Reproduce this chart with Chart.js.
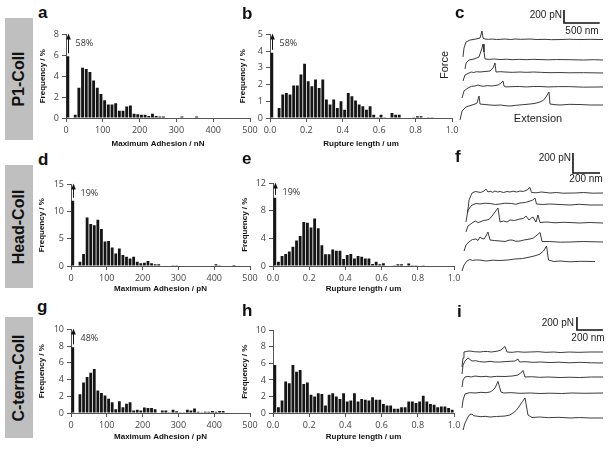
<!DOCTYPE html>
<html>
<head>
<meta charset="utf-8">
<script src="https://cdn.jsdelivr.net/npm/chart.js@4.4.1/dist/chart.umd.min.js"></script>
<style>
  body { margin: 0; background: #fff; width: 611px; height: 449px; position: relative; overflow: hidden; font-family: "Liberation Sans", Arial, sans-serif; }
  canvas { position: absolute; }
  .box { position: absolute; background: #bfbfbf; left: 5px; width: 28px; }
  .box span { position: absolute; left: 50%; top: 50%; transform: translate(-50%, -50%) rotate(-90deg); font-weight: bold; font-size: 16px; white-space: nowrap; color: #111; }
  .lt { position: absolute; font-weight: bold; font-size: 17px; line-height: 17px; color: #111; }
  .tx { position: absolute; font-size: 10px; line-height: 10px; color: #222; white-space: nowrap; }
  .c { transform: translate(-50%, -50%); }
</style>
</head>
<body>
<div class="box" style="top:18px;height:122px"><span>P1-Coll</span></div>
<div class="box" style="top:165px;height:123px"><span>Head-Coll</span></div>
<div class="box" style="top:317px;height:121px"><span>C-term-Coll</span></div>

<canvas id="ha"></canvas><canvas id="hb"></canvas><canvas id="fc"></canvas>
<canvas id="hd"></canvas><canvas id="he"></canvas><canvas id="ff"></canvas>
<canvas id="hg"></canvas><canvas id="hh"></canvas><canvas id="fi"></canvas>

<div class="lt" style="left:38px;top:4px">a</div>
<div class="lt" style="left:242px;top:5px">b</div>
<div class="lt" style="left:455px;top:4px">c</div>
<div class="lt" style="left:38px;top:151px">d</div>
<div class="lt" style="left:242px;top:150px">e</div>
<div class="lt" style="left:455px;top:148px">f</div>
<div class="lt" style="left:37px;top:298px">g</div>
<div class="lt" style="left:242px;top:302px">h</div>
<div class="lt" style="left:457px;top:303px">i</div>

<div class="tx" style="right:49px;top:10px">200 pN</div>
<div class="tx c" style="left:582px;top:31px">500 nm</div>
<div class="tx c" style="left:444px;top:65px;transform:translate(-50%,-50%) rotate(-90deg);font-size:11px">Force</div>
<div class="tx c" style="left:538px;top:118px;font-size:11px">Extension</div>
<div class="tx" style="right:40px;top:153px">200 pN</div>
<div class="tx c" style="left:586px;top:179px">200 nm</div>
<div class="tx" style="right:37px;top:318px">200 pN</div>
<div class="tx c" style="left:588px;top:338px">200 nm</div>

<script>
// histogram values, % per bin (adhesion bins of 10, rupture length bins of 0.02 um)
const p1Adhesion = [5.9,0,0.3,2.9,4.8,4.7,4.4,3.6,2.9,2.3,1.7,1.3,1.3,1.4,0.7,0.7,1.1,1.2,0.4,0.35,0.3,0.3,0.2,0.4,0.2,0.15,0.15,0,0.05,0,0,0.15,0,0,0,0.15];
const p1Length = [3.9,0,0.6,1.4,1.5,1.4,1.95,1.95,2.6,3.25,2.2,1.9,2.3,1.8,2.3,1.1,0.8,1.1,0.6,1.0,0.5,1.5,1.3,1.05,0.8,0.7,0.5,0.7,0.2,0.05,0.2,0.05,0,0.3,0.2,0.2,0,0,0,0.05,0.1,0.1,0,0.05,0.05];
const headAdhesion = [12.0,0,0.8,2.2,8.9,7.7,7.5,8.5,6.8,4.5,4.6,3.4,2.3,3.2,2.0,1.7,1.4,1.7,0.8,0.5,0.6,0.9,0.5,0.3,0.3,0,0,0,0.15,0.15,0,0,0,0,0,0,0,0,0,0,0.3,0.15,0,0,0,0.2];
const headLength = [9.9,0.6,1.45,1.75,2.1,2.8,3.7,4.35,6.4,6.3,5.6,6.9,5.5,3.0,1.7,1.7,2.4,2.2,2.2,1.0,1.6,1.75,1.1,1.45,1.35,1.1,1.1,0.3,0.6,0.25,0.4,0,0,0.1,0.25,0.25,0,0.35,0.1,0.1,0,0.1];
const ctermAdhesion = [7.85,0,2.25,3.65,4.3,4.8,5.25,2.7,2.4,2.1,1.7,1.3,0.45,1.4,0.7,1.1,1.3,0.3,0.4,0.3,0.65,0.6,0.6,0.45,0,0.3,0.3,0.1,0.4,0.2,0.1,0.1,0.4,0.3,0.55,0.15,0.1,0.15,0.15,0.25,0.15,0.25,0.25];
const ctermLength = [5.8,0.7,1.5,3.8,3.6,5.8,5.0,5.2,3.5,3.7,2.2,2.0,2.4,2.3,0.9,2.2,2.4,2.0,1.7,2.4,1.4,1.5,2.4,1.4,1.7,1.6,1.5,1.9,1.6,1.6,1.1,0.9,0.9,0.5,0.5,0.7,0.7,1.4,1.4,1.2,1.4,2.1,1.4,1.1,1.0,0.7,0.8,0.8,0.6,0.4];
const zeroBinShare = ['58%', '58%', '19%', '19%', '48%'];

// force traces: [extension nm, force pN relative to the trace baseline]
const c1 = [[112,-277],[126,-139],[154,-46],[210,-15],[294,0],[350,15],[378,123],[392,15],[420,0],[470,-5],[520,0],[580,-8],[630,-5],[700,0],[780,-8],[840,0],[920,-5],[1050,0],[1150,-8],[1260,-5],[1350,-10],[1470,-8],[1600,-3],[1750,-8],[1900,-5],[2072,-8]];
const c2 = [[140,-154],[154,-62],[196,-15],[266,0],[336,31],[378,170],[392,231],[406,108],[420,0],[480,-5],[550,0],[630,-8],[720,-3],[800,-10],[900,-5],[1000,-10],[1090,-5],[1190,-8],[1300,-12],[1420,-8],[1600,-10],[1800,-15],[1950,-10],[2072,-15]];
const c3 = [[112,-139],[140,-46],[196,-15],[230,0],[260,-8],[300,5],[350,0],[420,8],[490,15],[532,62],[560,139],[574,0],[640,5],[700,0],[800,-5],[910,0],[1000,-5],[1100,0],[1200,-5],[1330,-10],[1470,-8],[1600,-12],[1800,-10],[2072,-15]];
const c4 = [[98,-185],[126,-77],[182,-31],[230,-5],[280,0],[322,15],[364,0],[400,-5],[450,5],[520,0],[602,15],[644,46],[672,77],[686,0],[714,-15],[800,-10],[900,-8],[1000,-15],[1100,-8],[1190,-8],[1300,-15],[1450,-10],[1600,-10],[1800,-18],[2072,-15]];
const c5 = [[70,-246],[98,-108],[154,-46],[238,-15],[280,0],[308,15],[336,123],[350,0],[420,-8],[490,-15],[560,-20],[640,-15],[700,-25],[770,-31],[850,-20],[950,-10],[1050,0],[1120,10],[1190,31],[1240,60],[1274,108],[1316,185],[1330,0],[1400,-10],[1470,-15],[1600,-5],[1750,-8],[1900,-15],[2072,-15]];
const cBase = [1324, 1016, 816, 601, 323];

const f1 = [[93,-210],[104,-80],[126,-10],[150,5],[170,0],[190,-5],[215,10],[229,30],[244,0],[260,8],[280,-3],[296,10],[315,0],[333,5],[360,-5],[385,5],[407,0],[430,8],[455,0],[481,10],[505,5],[533,20],[555,45],[566,-5],[600,-8],[640,0],[703,-10],[750,-5],[800,-12],[888,-10],[950,-5],[1020,-12],[1095,-10]];
const f2 = [[81,-180],[96,-60],[126,-10],[155,5],[185,0],[220,8],[260,5],[300,-5],[333,0],[370,8],[420,5],[450,-3],[481,10],[520,15],[555,30],[575,40],[592,60],[603,0],[650,-5],[700,0],[777,-5],[850,-10],[920,-3],[1000,-10],[1095,-10]];
const f3 = [[81,-100],[96,-40],[126,-10],[150,10],[170,-5],[185,0],[210,15],[237,20],[255,30],[274,60],[296,100],[318,140],[333,0],[360,10],[385,0],[407,20],[440,15],[481,30],[505,35],[525,60],[548,20],[565,40],[577,50],[599,0],[614,70],[629,-5],[680,0],[740,-8],[800,-3],[851,-5],[920,-10],[1000,-5],[1095,-10]];
const f4 = [[67,-100],[81,-40],[111,0],[130,15],[155,20],[170,5],[185,40],[200,25],[215,20],[229,50],[244,90],[259,10],[290,5],[333,0],[370,-5],[400,8],[422,10],[450,-3],[481,0],[510,10],[555,20],[580,30],[599,50],[629,85],[644,-5],[700,-5],[780,-12],[851,-10],[950,-5],[1095,-10]];
const f5 = [[52,-100],[67,-40],[89,0],[110,15],[130,5],[150,10],[185,10],[230,0],[280,8],[333,5],[390,10],[444,20],[500,25],[555,40],[600,55],[629,70],[655,100],[677,150],[692,10],[730,-5],[777,0],[850,-8],[930,-3],[1036,-5]];
const fBase = [830, 710, 530, 340, 140];

const i1 = [[54,-231],[62,-92],[69,0],[90,10],[116,15],[150,5],[193,0],[220,8],[250,8],[280,0],[308,8],[330,15],[354,31],[385,85],[400,0],[440,-5],[480,5],[530,-3],[578,0],[640,5],[700,-5],[760,0],[809,-8],[880,0],[950,-5],[1040,0],[1140,0]];
const i2 = [[54,-185],[62,-46],[77,15],[100,62],[131,15],[160,20],[190,5],[231,0],[270,10],[310,0],[347,0],[400,8],[462,15],[485,46],[497,0],[540,5],[600,-5],[660,0],[732,-8],[800,-3],[880,-12],[960,-5],[1050,-12],[1140,-15]];
const i3 = [[54,-154],[62,-46],[77,0],[100,10],[125,0],[154,15],[200,5],[240,10],[270,0],[320,10],[385,8],[440,15],[485,31],[505,60],[524,100],[539,0],[590,5],[650,-5],[720,0],[809,-8],[880,-3],[960,-8],[1050,0],[1140,0]];
const i4 = [[54,-231],[62,-108],[77,-15],[110,5],[154,0],[200,10],[240,5],[270,15],[290,40],[308,77],[331,177],[354,15],[377,0],[430,5],[500,-5],[580,0],[655,-8],[730,-3],[820,-8],[900,0],[1000,-5],[1140,0]];
const i5 = [[62,-200],[77,-92],[100,0],[115,40],[131,46],[145,20],[162,15],[200,5],[235,10],[270,0],[320,8],[385,15],[420,30],[447,62],[475,110],[501,185],[520,240],[539,293],[562,31],[593,-8],[650,0],[720,-10],[800,-5],[886,-15],[960,-8],[1040,-15],[1140,-15]];
const iBase = [1278, 1124, 893, 647, 277];

Chart.defaults.font.family = '"Open Sans", "Liberation Sans", sans-serif';
Chart.defaults.color = '#444';
const AXIS = '#555';

// arrow + percentage over the first (off-scale) bin
const arrowPlugin = {
  id: 'arrow',
  afterDatasetsDraw(chart, args, opts) {
    if (!opts.text) return;
    const { ctx, scales: { x, y } } = chart;
    const first = chart.data.datasets[0].data[0];
    const px = Math.round(x.getPixelForValue(first.x)) + 0.5;
    const top = y.getPixelForValue(y.max);
    const from = y.getPixelForValue(first.y) - 3;
    ctx.save();
    ctx.strokeStyle = '#111';
    ctx.fillStyle = '#111';
    ctx.lineWidth = 1;
    ctx.beginPath();
    ctx.moveTo(px, from);
    ctx.lineTo(px, top + 4);
    ctx.stroke();
    ctx.beginPath();
    ctx.moveTo(px, top - 1);
    ctx.lineTo(px - 2.3, top + 5);
    ctx.lineTo(px + 2.3, top + 5);
    ctx.closePath();
    ctx.fill();
    ctx.font = '9px "Open Sans", sans-serif';
    ctx.fillStyle = '#333';
    ctx.textBaseline = 'middle';
    ctx.fillText(opts.text, px + 7, top + 9);
    ctx.restore();
  }
};

function place(cv, left, top, w, h) {
  cv.style.left = left + 'px';
  cv.style.top = top + 'px';
  cv.width = w; cv.height = h;
  cv.style.width = w + 'px';
  cv.style.height = h + 'px';
}

function histogram(id, g, values, bin, xMax, xStep, yMax, yStep, xTitle, pct, dec) {
  const cv = document.getElementById(id);
  place(cv, g.x0 - g.yw, g.y0 - 8, g.yw + (g.x1 - g.x0) + 16, 8 + (g.y1 - g.y0) + g.xh);
  const grid = { display: true, drawOnChartArea: false, drawTicks: true, tickLength: 4, color: AXIS, offset: false };
  const border = { display: true, color: AXIS, width: 1 };
  const titleFont = { family: '"Liberation Sans", Arial, sans-serif', weight: 'bold', size: 8 };
  new Chart(cv, {
    type: 'bar',
    data: {
      datasets: [{
        data: values.map((v, i) => ({ x: (i + 0.5) * bin, y: v })),
        backgroundColor: '#151515',
        barPercentage: 0.78,
        categoryPercentage: 1
      }]
    },
    options: {
      responsive: false,
      animation: false,
      layout: { padding: { top: 8, right: 16, left: 0, bottom: 0 } },
      plugins: { legend: { display: false }, tooltip: { enabled: false }, arrow: { text: pct } },
      scales: {
        x: {
          type: 'linear', offset: false, min: 0, max: xMax,
          ticks: { stepSize: xStep, autoSkip: false, maxRotation: 0, padding: 3, font: { size: 9 }, callback: v => v.toFixed(dec) },
          grid, border,
          title: { display: true, text: xTitle, font: titleFont, color: '#111', padding: 0 },
          afterFit: s => { s.height = g.xh; }
        },
        y: {
          min: 0, max: yMax,
          ticks: { stepSize: yStep, padding: 3, font: { size: 9 } },
          grid, border,
          title: { display: true, text: 'Frequency / %', font: titleFont, color: '#111', padding: 0 },
          afterFit: s => { s.width = g.yw; }
        }
      }
    },
    plugins: [arrowPlugin]
  });
}

function forceChart(id, g, traces, bases, bar) {
  const cv = document.getElementById(id);
  place(cv, 435, g.top, 170, g.h);
  const datasets = traces.map((t, k) => ({
    data: t.map(p => ({ x: p[0], y: p[1] + bases[k] })),
    borderColor: '#262626', borderWidth: 0.9, pointRadius: 0, showLine: true, tension: 0
  }));
  datasets.push({
    data: [{ x: bar[0], y: bar[1] + 200 }, { x: bar[0], y: bar[1] }, { x: bar[0] + bar[2], y: bar[1] }],
    borderColor: '#111', borderWidth: 1.6, pointRadius: 0, showLine: true
  });
  new Chart(cv, {
    type: 'scatter',
    data: { datasets },
    options: {
      responsive: false, animation: false,
      layout: { padding: 0 },
      plugins: { legend: { display: false }, tooltip: { enabled: false } },
      scales: {
        x: { display: false, min: -20 * g.nm, max: 150 * g.nm },
        y: { display: false, min: -(g.top + g.h - g.y0) * g.pn, max: (g.y0 - g.top) * g.pn }
      }
    }
  });
}

histogram('ha', { x0: 66, x1: 250, y0: 34, y1: 118, yw: 28, xh: 31 }, p1Adhesion, 10, 500, 100, 8, 2, 'Maximum Adhesion / nN', zeroBinShare[0], 0);
histogram('hb', { x0: 270, x1: 452, y0: 34, y1: 118, yw: 32, xh: 31 }, p1Length, 0.02, 1, 0.2, 5, 1, 'Rupture length / um', zeroBinShare[1], 1);
histogram('hd', { x0: 71, x1: 250, y0: 184, y1: 266, yw: 34, xh: 28 }, headAdhesion, 10, 500, 100, 15, 5, 'Maximum Adhesion / pN', zeroBinShare[2], 0);
histogram('he', { x0: 273, x1: 454, y0: 183, y1: 266, yw: 33, xh: 28 }, headLength, 0.02, 1, 0.2, 12, 4, 'Rupture length / um', zeroBinShare[3], 1);
histogram('hg', { x0: 71, x1: 250, y0: 329, y1: 413, yw: 34, xh: 29 }, ctermAdhesion, 10, 500, 100, 10, 2, 'Maximum Adhesion / pN', zeroBinShare[4], 0);
histogram('hh', { x0: 273, x1: 454, y0: 330, y1: 413, yw: 33, xh: 29 }, ctermLength, 0.02, 1, 0.2, 10, 2, 'Rupture length / um', '', 1);

forceChart('fc', { top: 0, h: 128, y0: 125, nm: 14, pn: 15.4 }, [c1, c2, c3, c4, c5], cBase, [1526, 1571, 500]);
forceChart('ff', { top: 140, h: 140, y0: 275, nm: 7.4, pn: 10 }, [f1, f2, f3, f4, f5], fBase, [873, 1020, 200]);
forceChart('fi', { top: 295, h: 145, y0: 435, nm: 7.7, pn: 15.4 }, [i1, i2, i3, i4, i5], iBase, [939, 1617, 200]);
</script>
</body>
</html>
